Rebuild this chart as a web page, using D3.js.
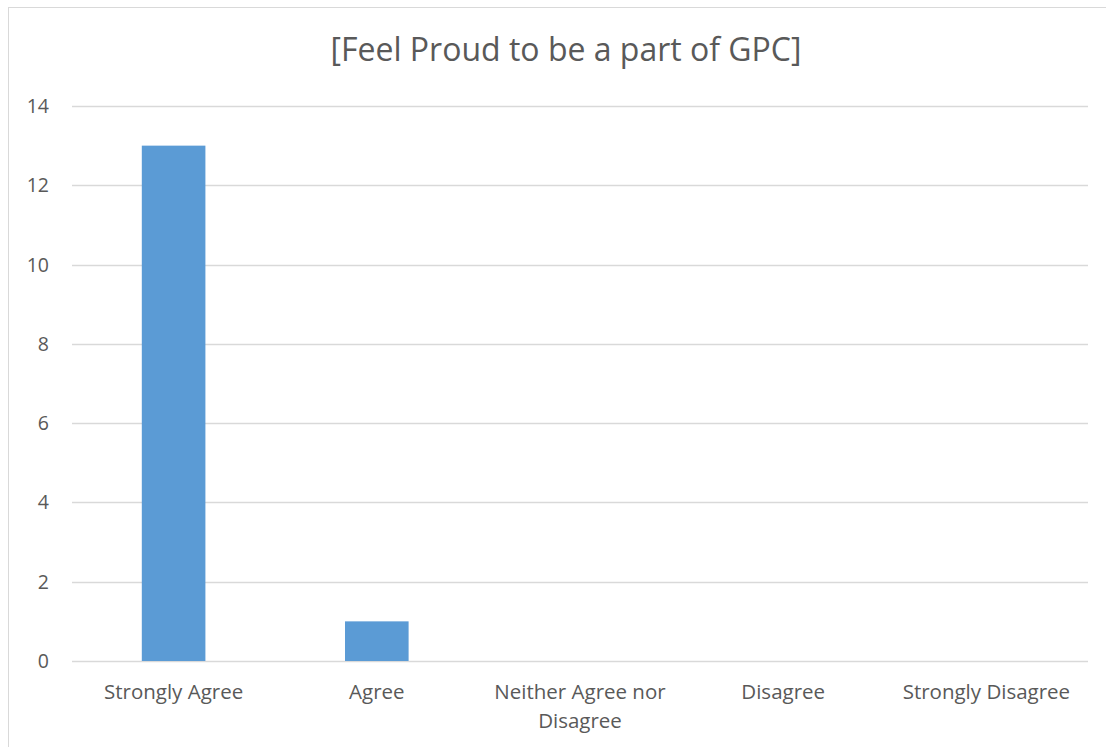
<!DOCTYPE html>
<html>
<head>
<meta charset="utf-8">
<script src="https://cdn.jsdelivr.net/npm/d3@7"></script>
<style>
  html, body { margin: 0; padding: 0; background: #fff; }
  svg { display: block; font-family: "Open Sans", "Liberation Sans", sans-serif; }
</style>
</head>
<body>
<div id="chart"></div>
<script>
const title = "[Feel Proud to be a part of GPC]";
const categories = ["Strongly Agree", "Agree", "Neither Agree nor Disagree", "Disagree", "Strongly Disagree"];
const values = [13, 1, 0, 0, 0];
const yTicks = [0, 2, 4, 6, 8, 10, 12, 14];

const W = 1106, H = 747;
const margin = {top: 106, right: 18, bottom: 86, left: 72};

const svg = d3.select('#chart').append('svg')
  .attr('width', W)
  .attr('height', H);

// chart frame
svg.append('rect')
  .attr('x', 8.5).attr('y', 7.5)
  .attr('width', W + 10).attr('height', H + 10)
  .attr('fill', 'none')
  .attr('stroke', '#d9d9d9')
  .attr('stroke-width', 1);

svg.append('text')
  .attr('x', 566).attr('y', 61)
  .attr('text-anchor', 'middle')
  .attr('font-size', 32)
  .attr('fill', '#595959')
  .text(title);

const x = d3.scaleBand()
  .domain(categories)
  .range([margin.left, W - margin.right])
  .padding(0);

const y = d3.scaleLinear()
  .domain([0, 14])
  .range([H - margin.bottom, margin.top]);

const barW = x.bandwidth() * 0.313;

// gridlines
svg.append('g')
  .selectAll('line')
  .data(yTicks)
  .enter()
  .append('line')
  .attr('x1', margin.left)
  .attr('x2', W - margin.right)
  .attr('y1', d => Math.round(y(d)) + 0.5)
  .attr('y2', d => Math.round(y(d)) + 0.5)
  .attr('stroke', '#d9d9d9')
  .attr('stroke-width', 1.3);

// y labels
svg.append('g')
  .selectAll('text')
  .data(yTicks)
  .enter()
  .append('text')
  .attr('x', 49)
  .attr('y', d => y(d))
  .attr('dy', '0.36em')
  .attr('text-anchor', 'end')
  .attr('font-size', 19.5)
  .attr('fill', '#595959')
  .text(d => d);

// bars
svg.append('g')
  .selectAll('rect')
  .data(values)
  .enter()
  .append('rect')
  .attr('x', (d, i) => x(categories[i]) + (x.bandwidth() - barW) / 2)
  .attr('y', d => y(d))
  .attr('width', barW)
  .attr('height', d => y(0) - y(d))
  .attr('fill', '#5b9bd5');

// category labels (wrapped)
function wrapLabel(s) {
  if (s === "Neither Agree nor Disagree") return ["Neither Agree nor", "Disagree"];
  return [s];
}

const lab = svg.append('g')
  .selectAll('text')
  .data(categories)
  .enter()
  .append('text')
  .attr('text-anchor', 'middle')
  .attr('font-size', 20.5)
  .attr('fill', '#595959')
  .attr('x', d => x(d) + x.bandwidth() / 2)
  .attr('y', 699);

lab.each(function(d) {
  const t = d3.select(this);
  wrapLabel(d).forEach((line, i) => {
    t.append('tspan')
      .attr('x', x(d) + x.bandwidth() / 2)
      .attr('dy', i === 0 ? 0 : 29)
      .text(line);
  });
});
</script>
</body>
</html>
